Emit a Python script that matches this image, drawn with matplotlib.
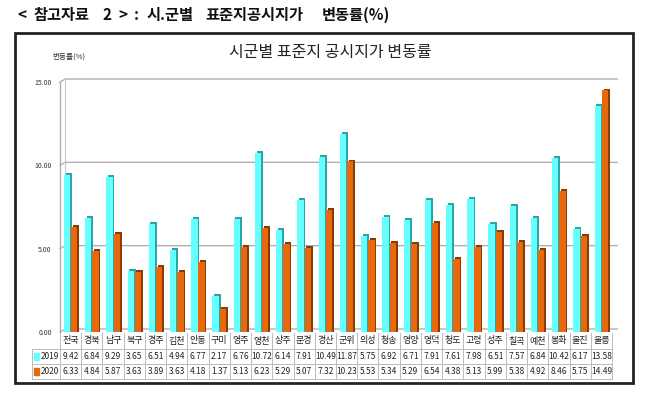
import numpy as np
import matplotlib
matplotlib.use("Agg")
import matplotlib.pyplot as plt
from matplotlib.patches import Rectangle
from matplotlib.lines import Line2D
import matplotlib.transforms as mtransforms

plt.rcParams['font.family'] = ['Noto Sans CJK KR', 'DejaVu Sans']

regions = ['전국', '경북', '남구', '북구', '경주', '김천', '안동', '구미', '영주', '영천',
           '상주', '문경', '경산', '군위', '의성', '청송', '영양', '영덕', '청도', '고령',
           '성주', '칠곡', '예천', '봉화', '울진', '울릉']
rate_2019 = [9.42, 6.84, 9.29, 3.65, 6.51, 4.94, 6.77, 2.17, 6.76, 10.72,
             6.14, 7.91, 10.49, 11.87, 5.75, 6.92, 6.71, 7.91, 7.61, 7.98,
             6.51, 7.57, 6.84, 10.42, 6.17, 13.58]
rate_2020 = [6.33, 4.84, 5.87, 3.63, 3.89, 3.63, 4.18, 1.37, 5.13, 6.23,
             5.29, 5.07, 7.32, 10.23, 5.53, 5.34, 5.29, 6.54, 4.38, 5.13,
             5.99, 5.38, 4.92, 8.46, 5.75, 14.49]
series_names = ['2019', '2020']
yticks = [0, 5, 10, 15]
title_parts = ['<', '참고자료', '2', '>', ':', '시.군별', '표준지공시지가', '변동률(%)']
title_x = [17, 33, 103, 118, 134, 147, 205, 322]

W, H = 649, 398
fig = plt.figure(figsize=(W / 100, H / 100), dpi=100)


def fx(px):
    return px / W


def fy(py):
    return 1 - py / H


# outer title (wide word spacing like the source document)
for part, px in zip(title_parts, title_x):
    fig.text(fx(px), fy(15), part, fontsize=11, fontweight='bold',
             va='center', ha='left', color='#111111')
fig.patches.append(Rectangle((fx(15), fy(383)), fx(618), fy(33) - fy(383),
                             transform=fig.transFigure, fill=False,
                             edgecolor='#222222', linewidth=2))
fig.text(fx(330), fy(52), '시군별 표준지 공시지가 변동률', fontsize=11.5,
         ha='center', va='center', color='#222222')
fig.text(fx(52), fy(57), '변동률(%)', fontsize=5.5, ha='left', va='center',
         color='#333333')

ax = fig.add_axes([fx(60), fy(332), fx(612) - fx(60), fy(82) - fy(332)])
ax.set_xlim(-0.5, len(regions) - 0.5)
ax.set_ylim(0, 15)
for s in ax.spines.values():
    s.set_visible(False)
ax.set_xticks([])
ax.set_yticks(yticks)
ax.set_yticklabels([f'{v:.2f}' for v in yticks], fontsize=5, color='#333333')
ax.tick_params(axis='y', length=0, pad=6)

# pseudo-3d grid
dx, dy = 0.25, 0.18
x0 = -0.5
for v in yticks:
    ax.plot([x0, x0 + dx, len(regions) - 0.5 + dx], [v, v + dy, v + dy],
            color='#b0b0b0', linewidth=1, clip_on=False, zorder=0)
ax.plot([x0, x0], [0, 15], color='#b0b0b0', linewidth=1, clip_on=False, zorder=0)
ax.plot([x0 + dx, x0 + dx], [dy, 15 + dy], color='#c8c8c8', linewidth=0.8,
        clip_on=False, zorder=0)

x = np.arange(len(regions))
bw = 0.3
colors = ['#66ffff', '#e8680c']
sides = ['#2aa6a6', '#8a3a05']
offsets = [-0.17, 0.17]
for vals, c, sc, off in zip([rate_2019, rate_2020], colors, sides, offsets):
    ax.bar(x + off + 0.08, np.array(vals) + 0.12, bw, bottom=0, color=sc, zorder=2)
    ax.bar(x + off, vals, bw, color=c, zorder=3)

# data table beneath
blend = mtransforms.blended_transform_factory(ax.transData, fig.transFigure)
row_lines = [fy(349), fy(364), fy(379)]
top = fy(333)
for i in range(len(regions) + 1):
    xe = i - 0.5
    ax.add_line(Line2D([xe, xe], [top, row_lines[-1]], transform=blend,
                       color='#bbbbbb', linewidth=0.7, clip_on=False))
for yl in row_lines:
    ax.add_line(Line2D([-0.5, len(regions) - 0.5], [yl, yl], transform=blend,
                       color='#bbbbbb', linewidth=0.7, clip_on=False))
leg_left = fx(32)
for yl in row_lines:
    fig.add_artist(Line2D([leg_left, fx(60)], [yl, yl], color='#bbbbbb',
                          linewidth=0.7))
fig.add_artist(Line2D([leg_left, leg_left], [row_lines[0], row_lines[-1]],
                      color='#bbbbbb', linewidth=0.7))

for i, name in enumerate(regions):
    ax.text(i, (top + row_lines[0]) / 2, name, transform=blend, ha='center',
            va='center', fontsize=6.5, color='#222222')
    ax.text(i, (row_lines[0] + row_lines[1]) / 2, f'{rate_2019[i]:.2f}',
            transform=blend, ha='center', va='center', fontsize=6, color='#222222')
    ax.text(i, (row_lines[1] + row_lines[2]) / 2, f'{rate_2020[i]:.2f}',
            transform=blend, ha='center', va='center', fontsize=6, color='#222222')

for k, (name, c) in enumerate(zip(series_names, colors)):
    yc = (row_lines[k] + row_lines[k + 1]) / 2
    fig.patches.append(Rectangle((fx(34), yc - 0.008), fx(5), 0.016,
                                 transform=fig.transFigure, color=c))
    fig.text(fx(41), yc, name, fontsize=6, ha='left', va='center', color='#222222')

fig.savefig('out.png', dpi=100)
